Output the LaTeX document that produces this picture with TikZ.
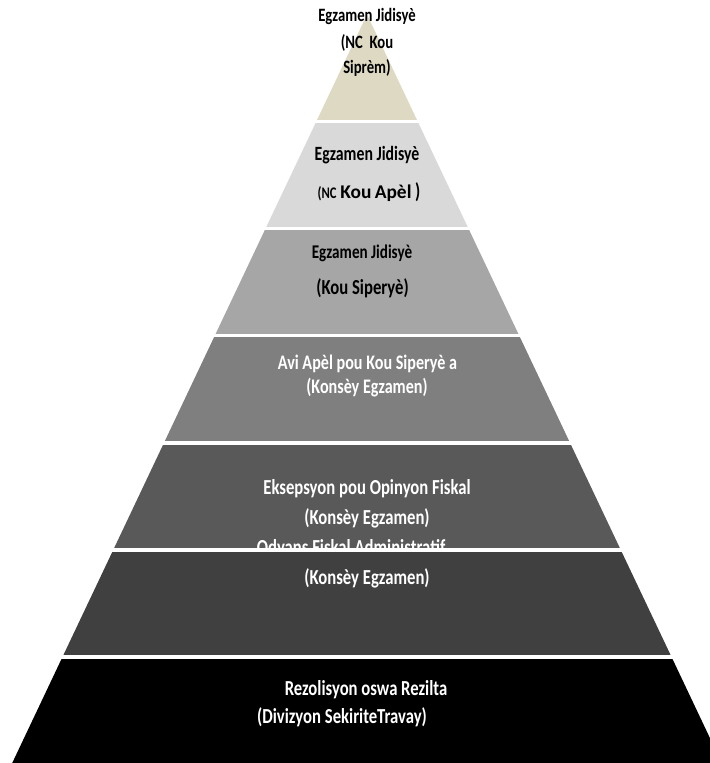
\documentclass[tikz,border=0pt]{standalone}
\usepackage{fontspec}
\setmainfont{Carlito}[FakeStretch=0.78]
\newfontfamily\widefont{Carlito}
\definecolor{tierA}{HTML}{DDD9C3}
\definecolor{tierB}{HTML}{D9D9D9}
\definecolor{tierC}{HTML}{A6A6A6}
\definecolor{tierD}{HTML}{7F7F7F}
\definecolor{tierE}{HTML}{595959}
\definecolor{tierF}{HTML}{404040}
\tikzset{
  tier/.style={draw=none},
  gapline/.style={white,line width=2.5pt},
  lbl/.style={font=\fontsize{15.2}{17}\selectfont\bfseries,anchor=center,inner sep=0pt},
  lblsmall/.style={lbl,font=\fontsize{13.4}{15}\selectfont\bfseries},
}

\begin{document}
\begin{tikzpicture}[x=0.025cm,y=-0.025cm]
\useasboundingbox (0,0) rectangle (710,763);
% tiers, top down
\fill[tier,tierA] (367,14.5) -- (417.75,121.6) -- (316.25,121.6) -- cycle;
\fill[tier,tierB] (316.25,121.6) -- (417.75,121.6) -- (468.5,228.6) -- (265.5,228.6) -- cycle;
\fill[tier,tierC] (265.5,228.6) -- (468.5,228.6) -- (519.25,335.7) -- (214.75,335.7) -- cycle;
\fill[tier,tierD] (214.75,335.7) -- (519.25,335.7) -- (570,442.8) -- (164,442.8) -- cycle;
\fill[tier,tierE] (164,442.8) -- (570,442.8) -- (620.75,549.9) -- (113.25,549.9) -- cycle;

\node[lblsmall,text=black] (l1a) at (367,16) {Egzamen Jidisyè};
\node[lblsmall,text=black] (l1b) at (367,43) {(NC\ \ Kou};
\node[lblsmall,text=black] (l1c) at (367,68) {Siprèm)};

\node[lbl,text=black,font=\fontsize{14.4}{16}\selectfont\bfseries] (l2a) at (367,155) {Egzamen Jidisyè};
\node[lbl,text=black] (l2b) at (369,192) {{\fontsize{11.5}{12}\selectfont(NC} {\widefont\fontsize{13.8}{15}\selectfont Kou\,Apèl}\,)};

\node[lblsmall,text=black,font=\fontsize{13.8}{15}\selectfont\bfseries] (l3a) at (362,253) {Egzamen Jidisyè};
\node[lbl,text=black] (l3b) at (362.5,288) {(Kou Siperyè)};

\node[lbl,text=white,font=\fontsize{14.7}{16}\selectfont\bfseries] (l4a) at (367.5,364) {Avi Apèl pou Kou Siperyè a};
\node[lbl,text=white,font=\fontsize{14.7}{16}\selectfont\bfseries] (l4b) at (367,388) {(Konsèy Egzamen)};

\node[lbl,text=white] (l5a) at (367,489) {Eksepsyon pou Opinyon Fiskal};
\node[lbl,text=white] (l5b) at (367,518) {(Konsèy Egzamen)};
\node[lbl,text=white] (l6a) at (351,549) {Odyans Fiskal Administratif};

\fill[tier,tierF] (113.25,549.9) -- (620.75,549.9) -- (671.5,656.9) -- (62.5,656.9) -- cycle;
\fill[tier,black] (62.5,656.9) -- (671.5,656.9) -- (722.25,764) -- (11.75,764) -- cycle;

\node[lbl,text=white] (l6b) at (367,578) {(Konsèy Egzamen)};

\node[lbl,text=white] (l7a) at (366,690) {Rezolisyon oswa Rezilta};
\node[lbl,text=white] (l7b) at (342,717) {(Divizyon SekiriteTravay)};

% white gaps between tiers
\draw[gapline] (0,121.6) -- (710,121.6);
\draw[gapline] (0,228.6) -- (710,228.6);
\draw[gapline] (0,335.7) -- (710,335.7);
\draw[gapline] (0,442.8) -- (710,442.8);
\draw[gapline] (0,549.9) -- (710,549.9);
\draw[gapline] (0,656.9) -- (710,656.9);

\end{tikzpicture}
\end{document}
